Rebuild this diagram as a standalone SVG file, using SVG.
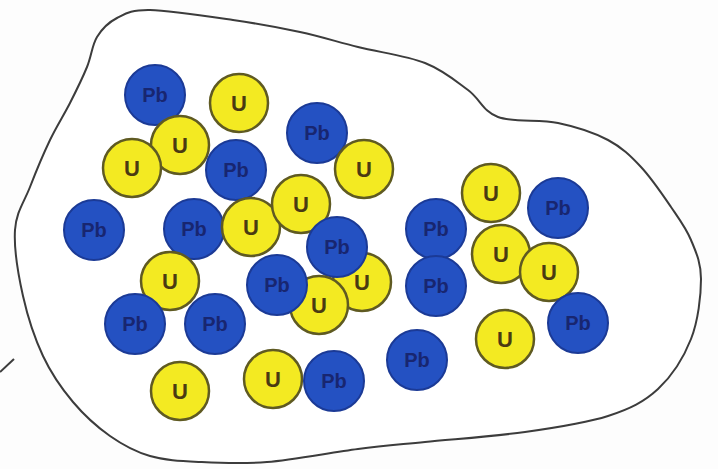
<svg xmlns="http://www.w3.org/2000/svg" width="718" height="469" viewBox="0 0 718 469">
<style>
.pb circle{fill:#2451c2;stroke:#1b3a96;stroke-width:2}
.u circle{fill:#f3ea22;stroke:#5f5a22;stroke-width:2.5}
.pb text{font-family:"Liberation Sans",Arial,sans-serif;font-size:20px;font-weight:bold;fill:#182670;text-anchor:middle}
.u text{font-family:"Liberation Sans",Arial,sans-serif;font-size:22px;font-weight:bold;fill:#4a3a12;text-anchor:middle}
.outline{fill:#ffffff;stroke:#3c3c3c;stroke-width:2}
</style>
<rect width="718" height="469" fill="#fdfdfd"/>
<path class="outline" d="M358,47 C378.8,52.2 406.7,55.8 425,63 C443.3,70.2 455.8,81 468,90 C480.2,99 483,111.5 498,117 C513,122.5 539.7,119.2 558,123 C576.3,126.8 594.2,132.7 608,140 C621.8,147.3 630.5,155.8 641,167 C651.5,178.2 662.7,194.8 671,207 C679.3,219.2 686,228 691,240 C696,252 701,262.5 701,279 C701,295.5 698.2,320.7 691,339 C683.8,357.3 671.8,376.2 658,389 C644.2,401.8 630.2,408.8 608,416 C585.8,423.2 555.5,427.7 525,432 C494.5,436.3 452.8,439.2 425,442 C397.2,444.8 384.3,445.7 358,449 C331.7,452.3 293.3,459.8 267,462 C240.7,464.2 219.5,463 200,462 C180.5,461 165,460.3 150,456 C135,451.7 122.8,445 110,436 C97.2,427 84.2,415.3 73,402 C61.8,388.7 51.3,373.7 43,356 C34.7,338.3 27.7,317 23,296 C18.3,275 13.8,248.2 15,230 C16.2,211.8 24.2,202 30,187 C35.8,172 43.3,154 50,140 C56.7,126 63.8,115.2 70,103 C76.2,90.8 82.5,78 87,67 C91.5,56 92,45.2 97,37 C102,28.8 108.2,22.5 117,18 C125.8,13.5 130.7,9.7 150,10 C169.3,10.3 208,16.3 233,20 C258,23.7 279.2,27.5 300,32 C320.8,36.5 337.2,41.8 358,47 Z"/>
<line x1="0" y1="372" x2="14" y2="359" stroke="#3c3c3c" stroke-width="2"/>
<g id="connectors"/>
<g id="pb1" class="pb"><circle cx="155" cy="95" r="30"/><text x="155" y="102">Pb</text></g>
<g id="u1" class="u"><circle cx="239" cy="103" r="29"/><text x="239" y="111">U</text></g>
<g id="pb2" class="pb"><circle cx="317" cy="133" r="30"/><text x="317" y="140">Pb</text></g>
<g id="u2" class="u"><circle cx="180" cy="145" r="29"/><text x="180" y="153">U</text></g>
<g id="u3" class="u"><circle cx="132" cy="168" r="29"/><text x="132" y="176">U</text></g>
<g id="pb3" class="pb"><circle cx="236" cy="170" r="30"/><text x="236" y="177">Pb</text></g>
<g id="u4" class="u"><circle cx="364" cy="169" r="29"/><text x="364" y="177">U</text></g>
<g id="pb4" class="pb"><circle cx="94" cy="230" r="30"/><text x="94" y="237">Pb</text></g>
<g id="pb5" class="pb"><circle cx="194" cy="229" r="30"/><text x="194" y="236">Pb</text></g>
<g id="u6" class="u"><circle cx="251" cy="227" r="29"/><text x="251" y="235">U</text></g>
<g id="u5" class="u"><circle cx="301" cy="204" r="29"/><text x="301" y="212">U</text></g>
<g id="pb7" class="pb"><circle cx="436" cy="229" r="30"/><text x="436" y="236">Pb</text></g>
<g id="u7" class="u"><circle cx="491" cy="193" r="29"/><text x="491" y="201">U</text></g>
<g id="pb8" class="pb"><circle cx="558" cy="208" r="30"/><text x="558" y="215">Pb</text></g>
<g id="u10" class="u"><circle cx="170" cy="281" r="29"/><text x="170" y="289">U</text></g>
<g id="u11" class="u"><circle cx="362" cy="282" r="29"/><text x="362" y="290">U</text></g>
<g id="pb6" class="pb"><circle cx="337" cy="247" r="30"/><text x="337" y="254">Pb</text></g>
<g id="u12" class="u"><circle cx="319" cy="305" r="29"/><text x="319" y="313">U</text></g>
<g id="pb9" class="pb"><circle cx="277" cy="285" r="30"/><text x="277" y="292">Pb</text></g>
<g id="pb10" class="pb"><circle cx="436" cy="286" r="30"/><text x="436" y="293">Pb</text></g>
<g id="u8" class="u"><circle cx="501" cy="254" r="29"/><text x="501" y="262">U</text></g>
<g id="u9" class="u"><circle cx="549" cy="272" r="29"/><text x="549" y="280">U</text></g>
<g id="pb11" class="pb"><circle cx="135" cy="324" r="30"/><text x="135" y="331">Pb</text></g>
<g id="pb12" class="pb"><circle cx="215" cy="324" r="30"/><text x="215" y="331">Pb</text></g>
<g id="pb13" class="pb"><circle cx="578" cy="323" r="30"/><text x="578" y="330">Pb</text></g>
<g id="u13" class="u"><circle cx="505" cy="339" r="29"/><text x="505" y="347">U</text></g>
<g id="pb14" class="pb"><circle cx="417" cy="360" r="30"/><text x="417" y="367">Pb</text></g>
<g id="u14" class="u"><circle cx="180" cy="391" r="29"/><text x="180" y="399">U</text></g>
<g id="u15" class="u"><circle cx="273" cy="379" r="29"/><text x="273" y="387">U</text></g>
<g id="pb15" class="pb"><circle cx="334" cy="381" r="30"/><text x="334" y="388">Pb</text></g>
</svg>
